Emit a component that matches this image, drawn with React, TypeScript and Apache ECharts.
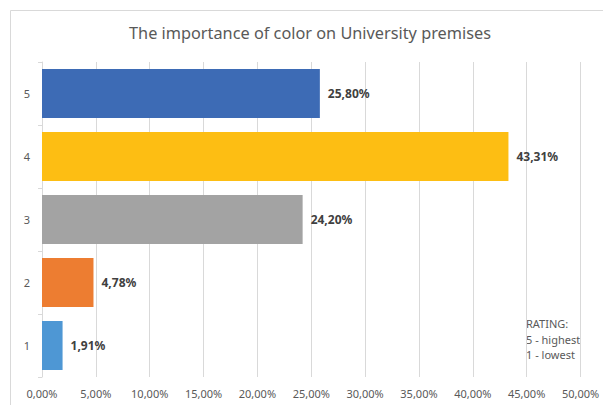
import React, { useEffect, useRef } from "react";
import * as echarts from "echarts";

const categories = ["1", "2", "3", "4", "5"];
const values = [1.91, 4.78, 24.2, 43.31, 25.8];
const barColors = ["#4E97D4", "#ED7D31", "#A3A3A3", "#FDBE13", "#3D6BB5"];
const titleText = "The importance of color on University premises";
const noteLines = ["RATING:", "5 - highest", "1 - lowest"];

const fmt = (v: number) => v.toFixed(2).replace(".", ",") + "%";

export default function App() {
  const ref = useRef<HTMLDivElement>(null);
  useEffect(() => {
    if (!ref.current) return;
    const chart = echarts.init(ref.current, undefined, { renderer: "svg" });
    const font = "'Noto Sans', 'Open Sans', sans-serif";
    chart.setOption({
      animation: false,
      backgroundColor: "#ffffff",
      title: {
        text: titleText,
        left: 305,
        textAlign: "center",
        top: 20,
        textStyle: { color: "#595959", fontSize: 16.3, fontWeight: "normal", fontFamily: font },
      },
      grid: { left: 42, right: 22.5, top: 62, bottom: 28, containLabel: false },
      xAxis: {
        type: "value",
        min: 0,
        max: 50,
        interval: 5,
        axisLine: { show: false },
        axisTick: { show: false },
        splitLine: { lineStyle: { color: "#D9D9D9", width: 1 } },
        axisLabel: {
          color: "#595959",
          fontSize: 11,
          fontFamily: font,
          margin: 11,
          formatter: (v: number) => fmt(v),
        },
      },
      yAxis: {
        type: "category",
        data: categories,
        axisLine: { show: true, lineStyle: { color: "#D9D9D9" } },
        axisTick: { show: true, length: 4, lineStyle: { color: "#D9D9D9" } },
        axisLabel: { color: "#595959", fontSize: 11, fontFamily: font, margin: 12 },
      },
      series: [
        {
          type: "bar",
          data: values.map((v, i) => ({ value: v, itemStyle: { color: barColors[i] } })),
          barCategoryGap: "22%",
          label: {
            show: true,
            position: "right",
            distance: 8,
            color: "#404040",
            fontSize: 12,
            fontWeight: "bold",
            fontFamily: font,
            formatter: (p: any) => fmt(p.value),
          },
        },
      ],
      graphic: [
        {
          type: "rect",
          shape: { x: 10.5, y: 10.5, width: 620, height: 420 },
          style: { fill: "none", stroke: "#D9D9D9", lineWidth: 1 },
          silent: true,
        },
        {
          type: "text",
          left: 526,
          top: 316,
          style: {
            text: noteLines.join("\n"),
            fill: "#595959",
            fontSize: 11,
            lineHeight: 15.5,
            fontFamily: font,
          },
        },
      ],
    });
    return () => chart.dispose();
  }, []);
  return (
    <div
      ref={ref}
      style={{ position: "fixed", left: 0, top: 0, width: 603, height: 405 }}
    />
  );
}
